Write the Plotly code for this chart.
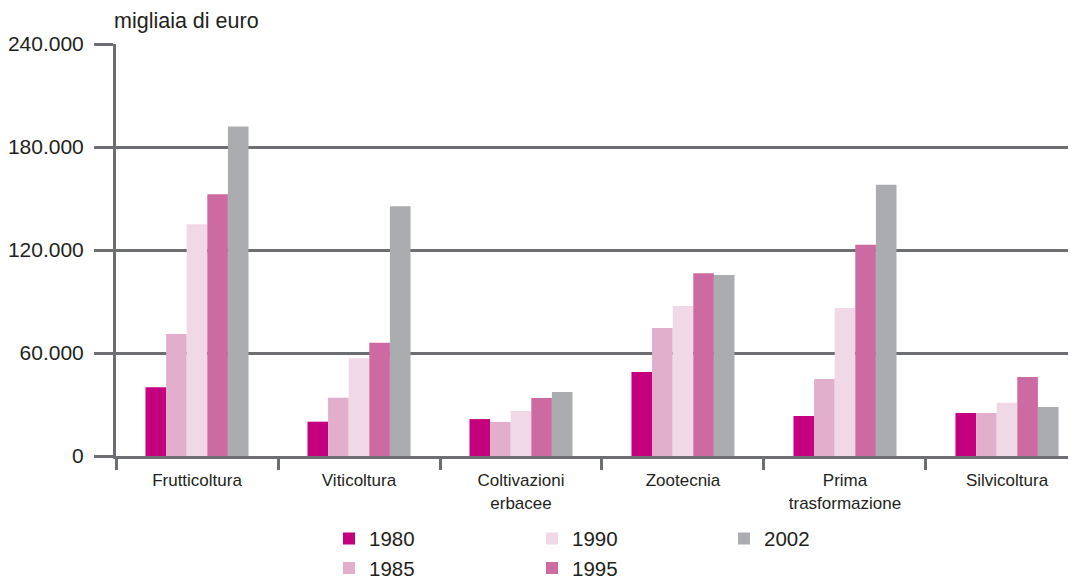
import plotly.graph_objects as go

categories = ["Frutticoltura", "Viticoltura", "Coltivazioni<br>erbacee", "Zootecnia",
              "Prima<br>trasformazione", "Silvicoltura"]
years = ["1980", "1985", "1990", "1995", "2002"]
v1980 = [40000, 20000, 21500, 49000, 23300, 25000]
v1985 = [71000, 34000, 19800, 74600, 44900, 25000]
v1990 = [135000, 57000, 26200, 87400, 86200, 31000]
v1995 = [152500, 66000, 33800, 106500, 123000, 46000]
v2002 = [192000, 145500, 37300, 105500, 158000, 28500]
series = [v1980, v1985, v1990, v1995, v2002]
colors = ["#C4007F", "#E1AFCC", "#F0D8E6", "#CD6AA1", "#ABACB0"]
legend_of = ["legend", "legend", "legend2", "legend2", "legend3"]
ytick_vals = [0, 60000, 120000, 180000, 240000]

grid = "#6D6E71"
txt = "#231F20"

fig = go.Figure()
for y, vals, c, lg in zip(years, series, colors, legend_of):
    fig.add_trace(go.Bar(x=categories, y=vals, name=y, marker_color=c,
                         marker_line_width=0, legend=lg))

# page body has an 8px margin: figure is drawn 8px right/down of the window corner
W, H = 1068, 573
PL = 116 - 8   # plot left in figure px
PT = 44 - 8    # plot top
PB = 456 - 8   # plot bottom (zero line)
pw = W - PL
ph = PB - PT


def lx(px):
    return (px - 116) / pw


leg_common = dict(orientation="v", xanchor="left", yanchor="top", y=-0.152,
                  font=dict(size=20.5, color=txt), traceorder="normal",
                  bgcolor="rgba(0,0,0,0)", tracegroupgap=0)

fig.update_layout(
    width=W, height=H,
    margin=dict(l=PL, r=0, t=PT, b=H - PB, autoexpand=False),
    paper_bgcolor="white", plot_bgcolor="white",
    barmode="group", bargap=0.364, bargroupgap=0,
    separators=",.",
    font=dict(family="Liberation Sans, Arial, sans-serif", color=txt),
    showlegend=True,
    legend=dict(x=lx(329), **leg_common),
    legend2=dict(x=lx(532), **leg_common),
    legend3=dict(x=lx(724), **leg_common),
    annotations=[dict(text="migliaia di euro", x=lx(112), y=(456 - 21) / ph,
                      xref="paper", yref="paper", xanchor="left", yanchor="middle",
                      showarrow=False, font=dict(size=21.5, color=txt))],
)

fig.update_xaxes(
    range=[-0.5, 5.426], showline=True, linecolor=grid, linewidth=3,
    ticks="outside", tickson="boundaries", ticklen=11, tickwidth=3, tickcolor=grid,
    showgrid=False, tickfont=dict(size=17, color=txt), tickangle=0, automargin=False,
    ticklabelstandoff=7,
)
fig.update_yaxes(
    range=[0, 240000], tickvals=ytick_vals, tickformat=",d",
    showline=True, linecolor=grid, linewidth=3,
    showgrid=True, gridcolor=grid, gridwidth=3, zeroline=False,
    ticks="outside", ticklen=19, tickwidth=3, tickcolor=grid,
    ticklabelstandoff=6, automargin=False,
    tickfont=dict(size=21, color=txt),
)

fig.write_html("out.html")
